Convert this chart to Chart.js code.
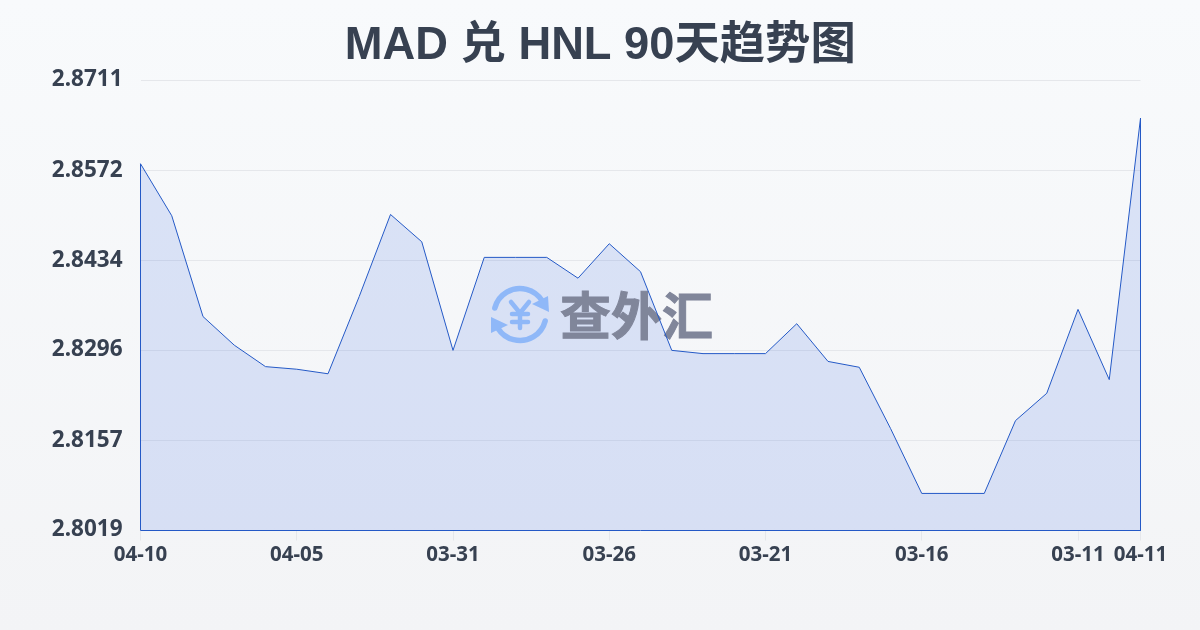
<!DOCTYPE html>
<html>
<head>
<meta charset="utf-8">
<script src="https://cdn.jsdelivr.net/npm/chart.js@4/dist/chart.umd.min.js"></script>
<style>
    html, body { margin: 0; padding: 0; }
    body { width: 1200px; height: 630px; overflow: hidden; background: linear-gradient(180deg, #f8fafc 0%, #f3f4f6 100%); }
    canvas { display: block; }
</style>
</head>
<body>
<canvas id="rateChart" width="1200" height="630"></canvas>
<script>
    const titleText = 'MAD 兑 HNL 90天趋势图';
    const watermarkText = '查外汇';

    // Dates as the chart shows them, newest first, last one wraps back to 04-11
    const dates = ['04-10', '04-09', '04-08', '04-07', '04-06', '04-05', '04-04', '04-03', '04-02', '04-01', '03-31',
        '03-30', '03-29', '03-28', '03-27', '03-26', '03-25', '03-24', '03-23', '03-22', '03-21',
        '03-20', '03-19', '03-18', '03-17', '03-16', '03-15', '03-14', '03-13', '03-12', '03-11', '03-10', '04-11'];
    const rates = [2.8583, 2.8503, 2.8348, 2.8304, 2.8271, 2.8267, 2.8260, 2.8379, 2.8505, 2.8463, 2.8296,
        2.8439, 2.8439, 2.8439, 2.8407, 2.8460, 2.8417, 2.8296, 2.8291, 2.8291, 2.8291,
        2.8337, 2.8279, 2.8270, 2.8176, 2.8076, 2.8076, 2.8076, 2.8188, 2.8230, 2.8359, 2.8251, 2.8653];
    const yTicks = [2.8711, 2.8572, 2.8434, 2.8296, 2.8157, 2.8019];
    const xTickIndexes = [0, 5, 10, 15, 20, 25, 30, 32];

    const yMin = yTicks[yTicks.length - 1];
    const yMax = yTicks[0];
    const lastIndex = rates.length - 1;

    const area = rates.map((rate, i) => ({ x: i, y: rate }));
    // Outline runs down both sides and along the bottom, so close the path on the axis
    const outline = [{ x: 0, y: yMin }, ...area, { x: lastIndex, y: yMin }, { x: 0, y: yMin }];

    const fontFamily = '"Noto Sans", "Noto Sans CJK SC", sans-serif';
    const titleFamily = '"Liberation Sans", "Noto Sans CJK SC", sans-serif';
    const textColor = '#374151';

    function strokeLine(c, x1, y1, x2, y2) {
        c.beginPath();
        c.moveTo(x1, y1);
        c.lineTo(x2, y2);
        c.stroke();
    }

    function fillTriangle(c, x1, y1, x2, y2, x3, y3) {
        c.beginPath();
        c.moveTo(x1, y1);
        c.lineTo(x2, y2);
        c.lineTo(x3, y3);
        c.closePath();
        c.fill();
    }

    // Watermark goes on top of the fill, under the outline
    const watermark = {
        id: 'watermark',
        afterDatasetDraw(chart, args) {
            if (args.index !== 0) return;
            const c = chart.ctx;
            const cx = 520;
            const cy = 314.5;
            c.save();
            c.strokeStyle = '#8fb8f8';
            c.fillStyle = '#8fb8f8';
            c.lineWidth = 5.5;
            c.lineCap = 'round';
            c.beginPath();
            c.arc(cx, cy, 26, Math.PI * 1.08, Math.PI * 1.82);
            c.stroke();
            c.beginPath();
            c.arc(cx, cy, 26, Math.PI * 0.08, Math.PI * 0.82);
            c.stroke();
            fillTriangle(c, 548, 296, 549, 312, 532, 304);
            fillTriangle(c, 491, 317, 491, 333, 508, 325);
            // yen sign
            c.lineWidth = 4.5;
            strokeLine(c, 511, 302, 520, 313);
            strokeLine(c, 529, 302, 520, 313);
            strokeLine(c, 520, 313, 520, 328);
            strokeLine(c, 512, 314, 528, 314);
            strokeLine(c, 512, 322, 528, 322);
            c.fillStyle = '#80869a';
            c.strokeStyle = '#80869a';
            c.lineWidth = 1;
            c.font = 'bold 51px "Noto Sans CJK SC", sans-serif';
            c.textAlign = 'left';
            c.textBaseline = 'middle';
            c.fillText(watermarkText, 560, 316);
            c.strokeText(watermarkText, 560, 316);
            c.restore();
        }
    };

    new Chart(document.getElementById('rateChart').getContext('2d'), {
        type: 'line',
        plugins: [watermark],
        data: {
            datasets: [{
                data: area,
                order: 1,
                borderWidth: 0,
                backgroundColor: 'rgba(30, 85, 225, 0.135)',
                fill: 'start',
                pointRadius: 0,
                tension: 0
            }, {
                data: outline,
                order: 0,
                borderColor: '#2459c6',
                borderWidth: 1,
                fill: false,
                pointRadius: 0,
                tension: 0,
                clip: false
            }]
        },
        options: {
            responsive: false,
            animation: false,
            // half pixel offset keeps the 1px outline crisp on the axes
            layout: { padding: { left: 0.5 } },
            plugins: {
                legend: { display: false },
                tooltip: { enabled: false },
                title: {
                    display: true,
                    text: titleText,
                    color: textColor,
                    font: { family: titleFamily, size: 45.3, weight: 'bold', lineHeight: 1.2 },
                    padding: { top: 19, bottom: 7.14 }
                }
            },
            scales: {
                x: {
                    type: 'linear',
                    min: 0,
                    max: lastIndex,
                    afterBuildTicks(scale) {
                        scale.ticks = xTickIndexes.map(i => ({ value: i }));
                    },
                    afterFit(scale) {
                        scale.height = 99.5;
                    },
                    grid: { drawOnChartArea: false, drawTicks: true, tickLength: 10, color: '#e5e7eb' },
                    border: { display: false },
                    ticks: {
                        autoSkip: false,
                        maxRotation: 0,
                        padding: 2,
                        color: textColor,
                        font: { family: fontFamily, size: 20.5, weight: 'bold' },
                        callback: value => dates[value]
                    }
                },
                y: {
                    min: yMin,
                    max: yMax,
                    afterBuildTicks(scale) {
                        scale.ticks = yTicks.map(v => ({ value: v }));
                    },
                    afterFit(scale) {
                        scale.width = 140;
                    },
                    grid: { drawTicks: false, color: '#e5e7eb' },
                    border: { display: false },
                    ticks: {
                        autoSkip: false,
                        padding: 18,
                        labelOffset: -0.5,
                        color: textColor,
                        font: { family: fontFamily, size: 22.5, weight: 'bold' },
                        callback: value => value.toFixed(4)
                    }
                },
                // empty axis that only reserves the right margin
                rightMargin: {
                    position: 'right',
                    grid: { display: false },
                    border: { display: false },
                    ticks: { display: false },
                    afterFit(scale) {
                        scale.width = 59.5;
                    }
                }
            }
        }
    });
</script>
</body>
</html>
